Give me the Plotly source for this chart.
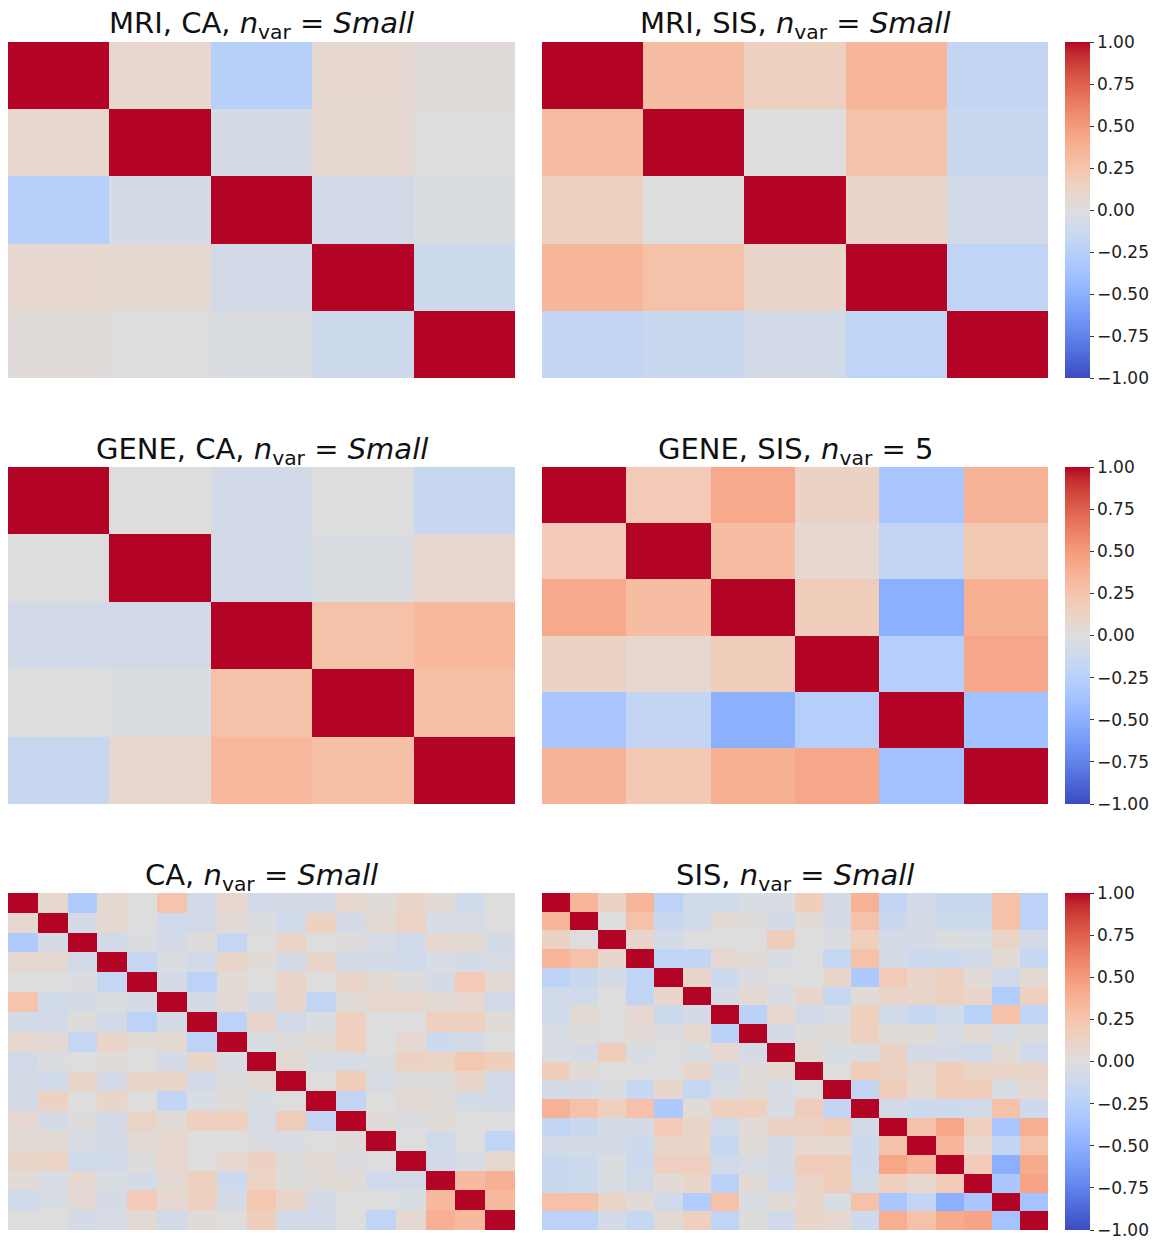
import plotly.graph_objects as go

# ---------------- data ----------------
titles = [
    "MRI, CA, <i>n</i><sub>var</sub> = <i>Small</i>",
    "MRI, SIS, <i>n</i><sub>var</sub> = <i>Small</i>",
    "GENE, CA, <i>n</i><sub>var</sub> = <i>Small</i>",
    "GENE, SIS, <i>n</i><sub>var</sub> = 5",
    "CA, <i>n</i><sub>var</sub> = <i>Small</i>",
    "SIS, <i>n</i><sub>var</sub> = <i>Small</i>",
]

mri_ca = [
    [1.00, 0.08, -0.25, 0.07, 0.02],
    [0.08, 1.00, -0.07, 0.06, 0.00],
    [-0.25, -0.07, 1.00, -0.08, -0.03],
    [0.07, 0.06, -0.08, 1.00, -0.12],
    [0.02, 0.00, -0.03, -0.12, 1.00],
]

mri_sis = [
    [1.00, 0.30, 0.15, 0.35, -0.18],
    [0.30, 1.00, 0.00, 0.27, -0.14],
    [0.15, 0.00, 1.00, 0.10, -0.08],
    [0.35, 0.27, 0.10, 1.00, -0.20],
    [-0.18, -0.14, -0.08, -0.20, 1.00],
]

gene_ca = [
    [1.00, 0.00, -0.08, 0.00, -0.15],
    [0.00, 1.00, -0.08, -0.03, 0.08],
    [-0.08, -0.08, 1.00, 0.27, 0.33],
    [0.00, -0.03, 0.27, 1.00, 0.28],
    [-0.15, 0.08, 0.33, 0.28, 1.00],
]

gene_sis = [
    [1.00, 0.20, 0.42, 0.13, -0.34, 0.36],
    [0.20, 1.00, 0.30, 0.07, -0.18, 0.21],
    [0.42, 0.30, 1.00, 0.18, -0.50, 0.38],
    [0.13, 0.07, 0.18, 1.00, -0.27, 0.43],
    [-0.34, -0.18, -0.50, -0.27, 1.00, -0.38],
    [0.36, 0.21, 0.38, 0.43, -0.38, 1.00],
]

ca_all = [
    [1.00, 0.07, -0.30, 0.06, 0.00, 0.25, -0.08, 0.08, -0.08, -0.06, -0.06, 0.07, 0.03, 0.10, 0.04, -0.09, 0.00],
    [0.07, 1.00, -0.06, 0.06, 0.00, -0.09, -0.08, 0.05, -0.02, -0.10, 0.14, -0.06, 0.05, 0.12, -0.04, -0.05, 0.00],
    [-0.30, -0.06, 1.00, -0.08, -0.02, -0.06, 0.01, -0.17, 0.00, 0.11, 0.00, 0.01, -0.05, -0.10, 0.06, 0.05, -0.07],
    [0.06, 0.06, -0.08, 1.00, -0.17, -0.03, -0.08, 0.10, 0.03, -0.06, 0.10, -0.06, -0.06, -0.10, -0.04, -0.06, -0.05],
    [0.00, 0.00, -0.02, -0.17, 1.00, -0.06, -0.22, 0.04, 0.00, 0.11, 0.00, 0.11, 0.05, 0.01, -0.06, 0.20, 0.05],
    [0.25, -0.09, -0.06, -0.03, -0.06, 1.00, -0.06, 0.05, -0.06, 0.10, -0.18, 0.03, 0.08, 0.08, 0.05, 0.07, -0.08],
    [-0.08, -0.08, 0.01, -0.08, -0.22, -0.06, 1.00, -0.22, 0.10, -0.08, -0.04, 0.16, 0.00, 0.00, 0.15, 0.15, 0.03],
    [0.08, 0.05, -0.17, 0.10, 0.04, 0.05, -0.22, 1.00, -0.04, 0.01, 0.03, 0.16, 0.00, 0.07, -0.12, -0.06, 0.00],
    [-0.08, -0.02, 0.00, 0.03, 0.00, -0.06, 0.10, -0.04, 1.00, 0.05, -0.04, -0.05, -0.02, 0.14, 0.12, 0.23, 0.17],
    [-0.06, -0.10, 0.11, -0.06, 0.11, 0.10, -0.08, 0.01, 0.05, 1.00, 0.00, 0.18, -0.05, 0.01, 0.01, 0.10, -0.08],
    [-0.06, 0.14, 0.00, 0.10, 0.00, -0.18, -0.04, 0.03, -0.04, 0.00, 1.00, -0.18, 0.00, 0.05, 0.03, -0.06, -0.08],
    [0.07, -0.06, 0.01, -0.06, 0.11, 0.03, 0.16, 0.16, -0.05, 0.18, -0.18, 1.00, 0.02, -0.02, 0.03, 0.00, 0.00],
    [0.03, 0.05, -0.05, -0.06, 0.05, 0.08, 0.00, 0.00, -0.02, -0.05, 0.00, 0.02, 1.00, 0.00, -0.10, 0.00, -0.20],
    [0.10, 0.12, -0.10, -0.10, 0.01, 0.08, 0.00, 0.07, 0.14, 0.01, 0.05, -0.02, 0.00, 1.00, -0.08, -0.04, 0.06],
    [0.04, -0.04, 0.06, -0.04, -0.06, 0.05, 0.15, -0.12, 0.12, 0.01, 0.03, 0.03, -0.10, -0.08, 1.00, 0.32, 0.38],
    [-0.09, -0.05, 0.05, -0.06, 0.20, 0.07, 0.15, -0.06, 0.23, 0.10, -0.06, 0.00, 0.00, -0.04, 0.32, 1.00, 0.32],
    [0.00, 0.00, -0.07, -0.05, 0.05, -0.08, 0.03, 0.00, 0.17, -0.08, -0.08, 0.00, -0.20, 0.06, 0.38, 0.32, 1.00],
]

sis_all = [
    [1.00, 0.35, 0.13, 0.35, -0.22, -0.10, -0.10, -0.04, -0.04, 0.17, -0.06, 0.37, -0.19, -0.08, -0.14, -0.14, 0.27, -0.22],
    [0.35, 1.00, 0.00, 0.27, -0.14, -0.10, 0.05, 0.01, -0.06, 0.04, -0.06, 0.27, -0.14, -0.06, -0.12, -0.12, 0.27, -0.22],
    [0.13, 0.00, 1.00, 0.09, -0.06, 0.00, 0.00, 0.00, 0.18, 0.00, -0.02, 0.16, -0.06, -0.06, -0.02, -0.04, 0.11, -0.06],
    [0.35, 0.27, 0.09, 1.00, -0.20, -0.19, 0.07, 0.04, -0.04, 0.00, -0.16, 0.27, -0.06, -0.12, -0.12, -0.08, 0.04, -0.16],
    [-0.22, -0.14, -0.06, -0.20, 1.00, 0.10, -0.12, -0.02, 0.00, 0.00, 0.09, -0.31, 0.20, 0.10, 0.15, 0.03, -0.10, 0.05],
    [-0.10, -0.10, 0.00, -0.19, 0.10, 1.00, -0.06, 0.06, -0.04, 0.09, -0.16, 0.03, 0.11, 0.10, 0.15, 0.10, -0.29, 0.16],
    [-0.10, 0.05, 0.00, 0.07, -0.12, -0.06, 1.00, -0.24, 0.07, -0.08, -0.04, 0.16, -0.09, -0.16, -0.10, -0.24, 0.27, -0.20],
    [-0.04, 0.01, 0.00, 0.04, -0.02, 0.06, -0.24, 1.00, -0.06, 0.01, 0.03, 0.16, 0.03, 0.03, -0.05, 0.04, -0.04, 0.01],
    [-0.04, -0.06, 0.18, -0.04, 0.00, -0.04, 0.07, -0.06, 1.00, 0.05, -0.04, -0.04, 0.13, -0.06, -0.07, -0.10, 0.04, -0.09],
    [0.17, 0.04, 0.00, 0.00, 0.00, 0.09, -0.08, 0.01, 0.05, 1.00, 0.00, 0.18, 0.13, 0.07, 0.19, 0.11, 0.10, 0.10],
    [-0.06, -0.06, -0.02, -0.16, 0.09, -0.16, -0.04, 0.03, -0.04, 0.00, 1.00, -0.18, 0.18, 0.06, 0.18, 0.18, -0.04, 0.07],
    [0.37, 0.27, 0.16, 0.27, -0.31, 0.03, 0.16, 0.16, -0.04, 0.18, -0.18, 1.00, -0.08, -0.12, -0.12, -0.08, 0.27, -0.12],
    [-0.19, -0.14, -0.06, -0.06, 0.20, 0.11, -0.09, 0.03, 0.13, 0.13, 0.18, -0.08, 1.00, 0.27, 0.44, 0.16, -0.34, 0.39],
    [-0.08, -0.06, -0.06, -0.12, 0.10, 0.10, -0.16, 0.03, -0.06, 0.07, 0.06, -0.12, 0.27, 1.00, 0.35, 0.08, -0.18, 0.27],
    [-0.14, -0.12, -0.02, -0.12, 0.15, 0.15, -0.10, -0.05, -0.07, 0.19, 0.18, -0.12, 0.44, 0.35, 1.00, 0.20, -0.50, 0.41],
    [-0.14, -0.12, -0.04, -0.08, 0.03, 0.10, -0.24, 0.04, -0.10, 0.11, 0.18, -0.08, 0.16, 0.08, 0.20, 1.00, -0.33, 0.45],
    [0.27, 0.27, 0.11, 0.04, -0.10, -0.29, 0.27, -0.04, 0.04, 0.10, -0.04, 0.27, -0.34, -0.18, -0.50, -0.33, 1.00, -0.37],
    [-0.22, -0.22, -0.06, -0.16, 0.05, 0.16, -0.20, 0.01, -0.09, 0.10, 0.07, -0.12, 0.39, 0.27, 0.41, 0.45, -0.37, 1.00],
]

cbar_tickvals = [1.0, 0.75, 0.5, 0.25, 0.0, -0.25, -0.5, -0.75, -1.0]
cbar_ticktext = ["1.00", "0.75", "0.50", "0.25", "0.00", "\u22120.25", "\u22120.50", "\u22120.75", "\u22121.00"]

# coolwarm (Moreland) colormap
coolwarm_rgb = [
    (59, 76, 192), (68, 90, 204), (77, 104, 215), (87, 117, 225), (98, 130, 234),
    (108, 142, 241), (119, 154, 247), (130, 165, 251), (141, 176, 254), (152, 185, 255),
    (163, 194, 255), (174, 201, 253), (184, 208, 249), (194, 213, 244), (204, 217, 238),
    (213, 219, 230), (221, 221, 221), (229, 216, 209), (236, 211, 197), (241, 204, 185),
    (245, 196, 173), (247, 187, 160), (247, 177, 148), (247, 166, 135), (244, 154, 123),
    (241, 141, 111), (236, 127, 99), (229, 112, 88), (222, 96, 77), (213, 80, 66),
    (203, 62, 56), (192, 40, 47), (180, 4, 38),
]
n_c = len(coolwarm_rgb)
coolwarm = [[i / (n_c - 1), "rgb(%d,%d,%d)" % c] for i, c in enumerate(coolwarm_rgb)]

# ---------------- layout geometry ----------------
W, H = 1156, 1241
col_px = [(8, 515), (542, 1048)]
row_px = [(42, 378), (467, 804), (893, 1230)]
title_y_px = [25, 451, 877]

mats = [mri_ca, mri_sis, gene_ca, gene_sis, ca_all, sis_all]

fig = go.Figure()
layout_axes = {}
annotations = []
for k, z in enumerate(mats):
    r, c = divmod(k, 2)
    n = len(z)
    idx = k + 1
    xa = "x" if idx == 1 else "x%d" % idx
    ya = "y" if idx == 1 else "y%d" % idx
    show = (c == 1)
    cb = None
    if show:
        y0, y1 = row_px[r]
        cb = dict(
            x=1065 / W, xanchor="left", xpad=0,
            y=1 - y0 / H, yanchor="top", ypad=0,
            len=(y1 - y0) / H, lenmode="fraction",
            thickness=25, thicknessmode="pixels",
            outlinewidth=0,
            tickvals=cbar_tickvals, ticktext=cbar_ticktext,
            ticks="outside", ticklen=4, tickwidth=1, tickcolor="#333",
            tickfont=dict(family="DejaVu Sans", size=17, color="#222"),
        )
    fig.add_trace(go.Heatmap(
        z=z, x=list(range(n)), y=list(range(n)),
        zmin=-1, zmax=1, colorscale=coolwarm,
        showscale=show, colorbar=cb,
        xaxis=xa, yaxis=ya, hoverongaps=False,
    ))
    x0, x1 = col_px[c]
    y0, y1 = row_px[r]
    xkey = "xaxis" if idx == 1 else "xaxis%d" % idx
    ykey = "yaxis" if idx == 1 else "yaxis%d" % idx
    layout_axes[xkey] = dict(domain=[x0 / W, x1 / W], anchor=ya, showticklabels=False,
                             showgrid=False, zeroline=False, ticks="",
                             range=[-0.5, n - 0.5])
    layout_axes[ykey] = dict(domain=[1 - y1 / H, 1 - y0 / H], anchor=xa, showticklabels=False,
                             showgrid=False, zeroline=False, ticks="",
                             range=[n - 0.5, -0.5])
    annotations.append(dict(
        text=titles[k], x=(x0 + x1) / 2 / W, y=1 - title_y_px[r] / H,
        xref="paper", yref="paper", xanchor="center", yanchor="middle",
        showarrow=False, font=dict(family="DejaVu Sans", size=29, color="#111"),
    ))

fig.update_layout(
    width=W, height=H,
    margin=dict(l=0, r=0, t=0, b=0),
    paper_bgcolor="white", plot_bgcolor="white",
    annotations=annotations,
    **layout_axes,
)

fig.write_html("out.html")
